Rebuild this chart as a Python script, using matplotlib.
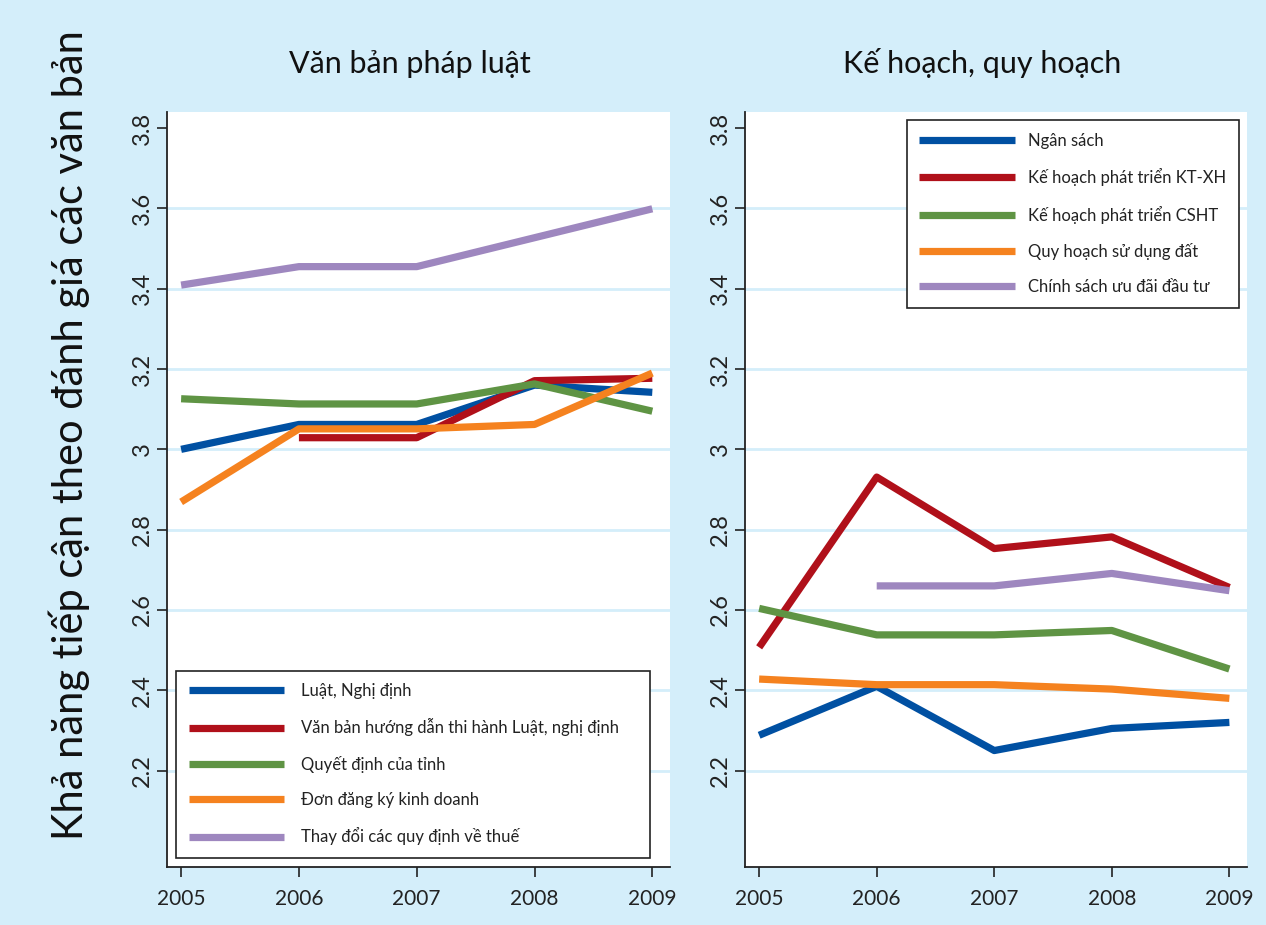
import numpy as np
import matplotlib
matplotlib.use('Agg')
import matplotlib.pyplot as plt
from matplotlib.ticker import FormatStrFormatter

plt.rcParams['font.family'] = ['Lato', 'DejaVu Sans']

years = [2005, 2006, 2007, 2008, 2009]

# panel 1: Văn bản pháp luật
left_labels = ['Luật, Nghị định',
               'Văn bản hướng dẫn thi hành Luật, nghị định',
               'Quyết định của tỉnh',
               'Đơn đăng ký kinh doanh',
               'Thay đổi các quy định về thuế']
luat = [3.00, 3.062, 3.062, 3.160, 3.142]
huong_dan = [np.nan, 3.029, 3.029, 3.171, 3.177]
quyet_dinh = [3.126, 3.113, 3.113, 3.163, 3.095]
don_dang_ky = [2.869, 3.051, 3.051, 3.062, 3.190]
thue = [3.409, 3.455, 3.455, 3.527, 3.599]

# panel 2: Kế hoạch, quy hoạch
right_labels = ['Ngân sách',
                'Kế hoạch phát triển KT-XH',
                'Kế hoạch phát triển CSHT',
                'Quy hoạch sử dụng đất',
                'Chính sách ưu đãi đầu tư']
ngan_sach = [2.288, 2.410, 2.250, 2.305, 2.320]
kt_xh = [2.507, 2.931, 2.753, 2.782, 2.656]
csht = [2.604, 2.538, 2.538, 2.549, 2.453]
dat = [2.428, 2.414, 2.414, 2.403, 2.380]
uu_dai = [np.nan, 2.660, 2.660, 2.691, 2.648]

colors = ['#0050a2', '#b0101a', '#5f9444', '#f5821f', '#9e87bf']
bg = '#d4eefa'
yticks = [2.2, 2.4, 2.6, 2.8, 3.0, 3.2, 3.4, 3.6, 3.8]

fig = plt.figure(figsize=(12.66, 9.25), dpi=100, facecolor=bg)
ax1 = fig.add_axes([0.1319, 0.0627, 0.3973, 0.8162])
ax2 = fig.add_axes([0.5885, 0.0627, 0.3965, 0.8162])

panels = [
    (ax1, 'Văn bản pháp luật', [luat, huong_dan, quyet_dinh, don_dang_ky, thue], left_labels, 0.483),
    (ax2, 'Kế hoạch, quy hoạch', [ngan_sach, kt_xh, csht, dat, uu_dai], right_labels, 0.472),
]

for ax, title, series, labels, tx in panels:
    ax.set_facecolor('white')
    for g in yticks[:-1]:
        ax.axhline(g, color=bg, lw=2, zorder=1)
    for s, c, lab in zip(series, colors, labels):
        ax.plot(years, s, color=c, lw=5.2, solid_capstyle='butt', label=lab, zorder=3)
    ax.set_xlim(2004.88, 2009.15)
    ax.set_ylim(1.96, 3.84)
    ax.set_xticks(years)
    ax.set_yticks(yticks)
    ax.yaxis.set_major_formatter(FormatStrFormatter('%g'))
    for lab in ax.get_yticklabels():
        lab.set_rotation(90)
        lab.set_va('center')
    ax.tick_params(axis='both', direction='out', length=7, width=1.2,
                   labelcolor='#222222', color='#222222')
    ax.tick_params(axis='y', pad=3, labelsize=17)
    ax.tick_params(axis='x', pad=9, labelsize=15)
    for sp in ['top', 'right']:
        ax.spines[sp].set_visible(False)
    for sp in ['left', 'bottom']:
        ax.spines[sp].set_color('#222222')
        ax.spines[sp].set_linewidth(1.3)
    ax.set_title(title, fontsize=22, color='#111111', pad=28, x=tx)

leg_kw = dict(fontsize=12, handlelength=5.75, labelspacing=1.16, borderpad=0.75,
              borderaxespad=0, fancybox=False, edgecolor='#222222', framealpha=1)
leg1 = ax1.legend(loc='lower left', bbox_to_anchor=(0.018, 0.012, 0.942, 0.25),
                  mode='expand', handletextpad=1.0, **leg_kw)
leg2 = ax2.legend(loc='upper right', bbox_to_anchor=(0.984, 0.989),
                  handletextpad=0.8, **leg_kw)
for leg in (leg1, leg2):
    leg.get_frame().set_linewidth(1.2)
    for t in leg.get_texts():
        t.set_color('#222222')

fig.text(0.055, 0.53, 'Khả năng tiếp cận theo đánh giá các văn bản', rotation=90,
         ha='center', va='center', fontsize=30, color='#111111')

fig.savefig('out.png', dpi=100, facecolor=bg)
